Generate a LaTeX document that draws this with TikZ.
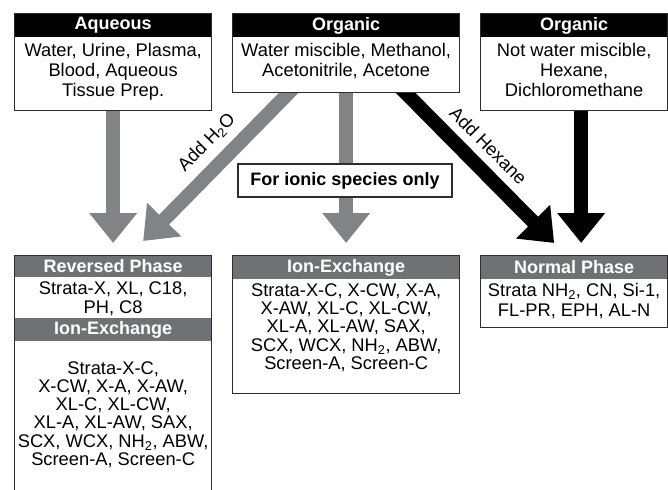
\documentclass[tikz,border=0pt]{standalone}
\usepackage{fontspec}
\setmainfont{Liberation Sans}
\usetikzlibrary{arrows.meta,positioning}
\pgfdeclarelayer{back}
\pgfsetlayers{back,main}
\definecolor{arrowgray}{RGB}{130,131,134}
\definecolor{headgray}{RGB}{112,113,116}
\definecolor{edgegray}{RGB}{45,45,45}

\begin{document}
\begin{tikzpicture}[x=1pt,y=-1pt,
    font=\fontsize{18.3}{20}\selectfont,
    frame/.style={draw=edgegray,line width=1.3pt,fill=white,anchor=north west,inner sep=0pt},
    tophead/.style={fill=black,text=white,font=\fontsize{18}{20}\selectfont\bfseries,inner sep=0pt,anchor=north},
    subhead/.style={tophead,fill=headgray},
    info/.style={align=center,inner sep=0pt,anchor=north},
    tight/.style={font=\fontsize{18.3}{18.2}\selectfont},
    bigarrow/.style={line width=14pt,-{Triangle[width=46pt,length=30pt]}},
]
    \useasboundingbox (0,0) rectangle (668,489);

    % sample boxes on top
    \node[frame,minimum width=197pt,minimum height=97pt] (aq) at (14,13) {};
    \node[tophead,minimum width=195.7pt,minimum height=23.4pt] (aqH) at ([yshift=-0.65pt]aq.north) {Aqueous};
    \node[info] (aqT) at ([yshift=-6pt]aqH.south) {Water, Urine, Plasma,\\Blood, Aqueous\\Tissue Prep.};

    \node[frame,minimum width=227pt,minimum height=79pt] (org) at (232,13) {};
    \node[tophead,minimum width=225.7pt,minimum height=23.4pt] (orgH) at ([yshift=-0.65pt]org.north) {Organic};
    \node[info] (orgT) at ([yshift=-6pt]orgH.south) {Water miscible, Methanol,\\Acetonitrile, Acetone};

    \node[frame,minimum width=187pt,minimum height=97pt] (nonaq) at (480,13) {};
    \node[tophead,minimum width=185.7pt,minimum height=23.4pt] (nonaqH) at ([yshift=-0.65pt]nonaq.north) {Organic};
    \node[info] (nonaqT) at ([yshift=-6pt]nonaqH.south) {Not water miscible,\\Hexane,\\Dichloromethane};

    \node[draw=edgegray,line width=1.3pt,fill=white,minimum width=214pt,minimum height=33pt,inner sep=0pt,font=\fontsize{18}{20}\selectfont\bfseries] (ionic) at (345,180.5) {For ionic species only};

    % sorbent boxes at the bottom
    \node[frame,minimum width=197pt,minimum height=237pt] (rp) at (14,255) {};
    \node[subhead,minimum width=195.7pt,minimum height=21.4pt] (rpH) at ([yshift=-0.65pt]rp.north) {Reversed Phase};
    \node[info,font=\fontsize{18.3}{19}\selectfont] (rpT) at ([yshift=-4pt]rpH.south) {Strata-X, XL, C18,\\PH, C8};
    \node[subhead,minimum width=195.7pt,minimum height=23pt] (rpH2) at ([yshift=-63pt]rp.north) {Ion-Exchange};
    \node[info,tight] (rpT2) at ([yshift=-20pt]rpH2.south) {Strata-X-C,\\X-CW, X-A, X-AW,\\XL-C, XL-CW,\\XL-A, XL-AW, SAX,\\SCX, WCX, NH\textsubscript{2}, ABW,\\Screen-A, Screen-C};

    \node[frame,minimum width=227pt,minimum height=138pt] (ie) at (232,255) {};
    \node[subhead,minimum width=225.7pt,minimum height=23.4pt] (ieH) at ([yshift=-0.65pt]ie.north) {Ion-Exchange};
    \node[info,tight] (ieT) at ([yshift=-4pt]ieH.south) {Strata-X-C, X-CW, X-A,\\X-AW, XL-C, XL-CW,\\XL-A, XL-AW, SAX,\\SCX, WCX, NH\textsubscript{2}, ABW,\\Screen-A, Screen-C};

    \node[frame,minimum width=187pt,minimum height=72pt] (np) at (480,255) {};
    \node[subhead,minimum width=185.7pt,minimum height=23.4pt] (npH) at ([yshift=-0.65pt]np.north) {Normal Phase};
    \node[info] (npT) at ([yshift=-4pt]npH.south) {Strata NH\textsubscript{2}, CN, Si-1,\\FL-PR, EPH, AL-N};

    % arrows behind the boxes
    \begin{pgfonlayer}{back}
        \draw[bigarrow,arrowgray,shorten >=12pt] (aq.south) -- (rp.north);
        \draw[bigarrow,arrowgray,shorten >=12pt] (org.south) -- (ie.north);
        \draw[bigarrow,black,shorten >=12pt] ([xshift=7pt]nonaq.south) -- ([xshift=7pt]np.north);
        \draw[bigarrow,arrowgray] ([xshift=-50pt,yshift=8pt]org.south) -- ([xshift=30pt,yshift=14pt]rp.north)
            node[pos=0.475,sloped,above=8pt,inner sep=0pt,text=black] (h2oLbl) {Add H\textsubscript{2}O};
        \draw[bigarrow,black] ([xshift=52pt,yshift=8pt]org.south) -- ([xshift=-20pt,yshift=12pt]np.north)
            node[pos=0.48,sloped,above=8pt,inner sep=0pt] (hexLbl) {Add Hexane};
    \end{pgfonlayer}
\end{tikzpicture}
\end{document}
